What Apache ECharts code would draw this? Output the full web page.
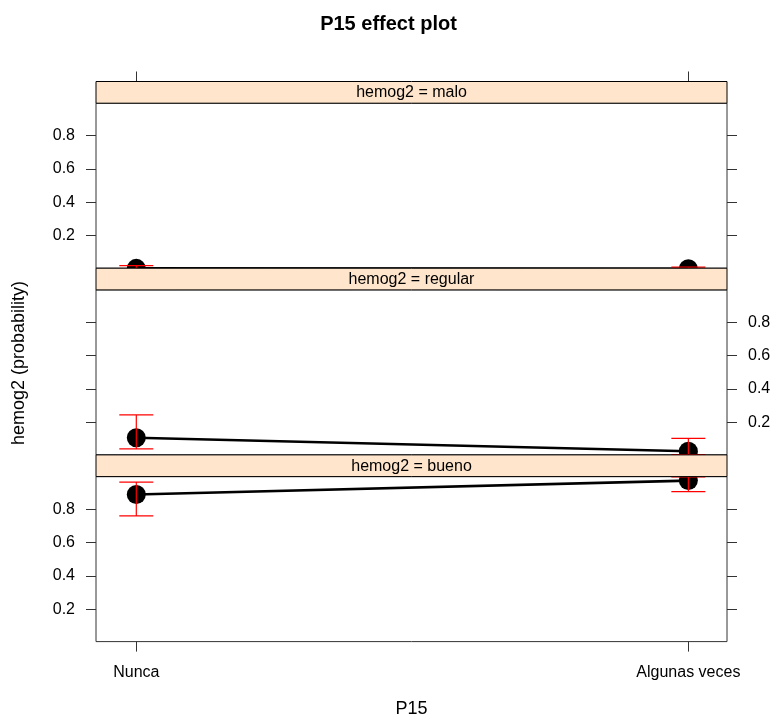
<!DOCTYPE html>
<html>
<head>
<meta charset="utf-8">
<title>P15 effect plot</title>
<script src="https://cdn.jsdelivr.net/npm/echarts@6/dist/echarts.min.js"></script>
<style>
  html, body { margin: 0; padding: 0; background: #fff; }
  #main { width: 777px; height: 721px; }
</style>
</head>
<body>
<div id="main"></div>
<script>
// x levels (P15) and panel levels (hemog2)
var categories = ['Nunca', 'Algunas veces'];
var levels = ['malo', 'regular', 'bueno'];
var yTicks = [0.2, 0.4, 0.6, 0.8];

// fitted probabilities + confidence limits, one value per P15 level
var fitMalo = [0.004, 0.002];
var lowerMalo = [0.0005, 0.0003];
var upperMalo = [0.02, 0.012];

var fitRegular = [0.108, 0.027];
var lowerRegular = [0.041, 0.007];
var upperRegular = [0.245, 0.104];

var fitBueno = [0.888, 0.971];
var lowerBueno = [0.759, 0.905];
var upperBueno = [0.962, 0.993];

var panels = [
    {fit: fitMalo, lower: lowerMalo, upper: upperMalo},
    {fit: fitRegular, lower: lowerRegular, upper: upperRegular},
    {fit: fitBueno, lower: lowerBueno, upper: upperBueno}
];

var FONT = '"Liberation Sans", Arial, Helvetica, sans-serif';
var gridLeft = 96, gridW = 631;
var top0 = 81.5, stripH = 21.7, panelH = 165;
var axisCol = '#333';

function gridTop(i) { return top0 + stripH * (i + 1) + panelH * i; }

var chart = echarts.init(document.getElementById('main'));

var grids = [], xAxes = [], yAxes = [], series = [], graphics = [];

for (var i = 0; i < levels.length; i++) {
    grids.push({
        left: gridLeft, width: gridW, top: gridTop(i), height: panelH,
        show: true, borderColor: axisCol, borderWidth: 1, containLabel: false
    });

    // x axis: ticks above the top strip (panel 0), ticks + labels below (last panel)
    var isTop = i === 0, isBottom = i === levels.length - 1;
    xAxes.push({
        type: 'value', gridIndex: i, min: 0.927, max: 2.07,
        position: isTop ? 'top' : 'bottom',
        offset: isTop ? stripH : 0,
        show: isTop || isBottom,
        axisLine: {show: false},
        splitLine: {show: false},
        axisTick: {show: true, length: 10, customValues: [1, 2], lineStyle: {color: axisCol}},
        axisLabel: {
            show: isBottom, customValues: [1, 2], margin: 23,
            fontFamily: FONT, fontSize: 16, color: '#000',
            formatter: function (v) { return categories[Math.round(v) - 1] || ''; }
        },
        name: isBottom ? 'P15' : '',
        nameLocation: 'middle', nameGap: 58,
        nameTextStyle: {fontFamily: FONT, fontSize: 18, color: '#000'}
    });

    // left and right y axes, labels alternate sides like lattice
    ['left', 'right'].forEach(function (side) {
        var labelled = (side === 'left') === (i % 2 === 0);
        yAxes.push({
            type: 'value', gridIndex: i, position: side, min: 0.005, max: 0.995,
            axisLine: {show: false},
            splitLine: {show: false},
            axisTick: {show: true, length: 10, customValues: yTicks, lineStyle: {color: axisCol}},
            axisLabel: {
                show: labelled, customValues: yTicks, margin: 21,
                fontFamily: FONT, fontSize: 16, color: '#000',
                formatter: function (v) { return v.toFixed(1); }
            }
        });
    });

    var p = panels[i];
    var pts = [], bars = [];
    for (var k = 0; k < categories.length; k++) {
        pts.push([k + 1, p.fit[k]]);
        bars.push([k + 1, p.lower[k], p.upper[k]]);
    }

    series.push({
        type: 'line', xAxisIndex: i, yAxisIndex: 2 * i, data: pts,
        showSymbol: false, clip: true, silent: true, animation: false,
        lineStyle: {color: '#000', width: 2.6}, z: 2
    });
    series.push({
        type: 'custom', xAxisIndex: i, yAxisIndex: 2 * i, data: pts,
        clip: true, silent: true, animation: false, z: 3,
        encode: {x: 0, y: 1},
        renderItem: function (params, api) {
            var c = api.coord([api.value(0), api.value(1)]);
            return {type: 'circle', shape: {cx: c[0], cy: c[1], r: 9.5}, style: {fill: '#000'}};
        }
    });
    series.push({
        type: 'custom', xAxisIndex: i, yAxisIndex: 2 * i, data: bars,
        clip: true, silent: true, animation: false, z: 4,
        encode: {x: 0, y: [1, 2]},
        renderItem: function (params, api) {
            var lo = api.coord([api.value(0), api.value(1)]);
            var hi = api.coord([api.value(0), api.value(2)]);
            var w = 17;
            var st = {stroke: '#ff0000', lineWidth: 1.2};
            return {
                type: 'group',
                children: [
                    {type: 'line', shape: {x1: lo[0], y1: lo[1], x2: hi[0], y2: hi[1]}, style: st},
                    {type: 'line', shape: {x1: lo[0] - w, y1: lo[1], x2: lo[0] + w, y2: lo[1]}, style: st},
                    {type: 'line', shape: {x1: hi[0] - w, y1: hi[1], x2: hi[0] + w, y2: hi[1]}, style: st}
                ]
            };
        }
    });

    // strip above each panel
    var sy = gridTop(i) - stripH;
    graphics.push({
        type: 'rect', z: 100, silent: true,
        shape: {x: gridLeft, y: sy, width: gridW, height: stripH},
        style: {fill: '#ffe5cc', stroke: '#000', lineWidth: 1}
    });
    graphics.push({
        type: 'text', z: 101, silent: true,
        x: gridLeft + gridW / 2, y: sy + stripH / 2 + 0.5,
        style: {
            text: 'hemog2 = ' + levels[i], fontFamily: FONT, fontSize: 16,
            fill: '#000', align: 'center', verticalAlign: 'middle'
        }
    });
}

// y axis title spanning all panels
graphics.push({
    type: 'text', silent: true, x: 19, y: 363, rotation: Math.PI / 2,
    style: {
        text: 'hemog2 (probability)', fontFamily: FONT, fontSize: 18,
        fill: '#000', align: 'center', verticalAlign: 'middle'
    }
});

chart.setOption({
    animation: false,
    backgroundColor: '#fff',
    title: {
        text: 'P15 effect plot', left: 'center', top: 9,
        textStyle: {fontFamily: FONT, fontSize: 20, fontWeight: 'bold', color: '#000'}
    },
    grid: grids,
    xAxis: xAxes,
    yAxis: yAxes,
    series: series,
    graphic: graphics
});
</script>
</body>
</html>
